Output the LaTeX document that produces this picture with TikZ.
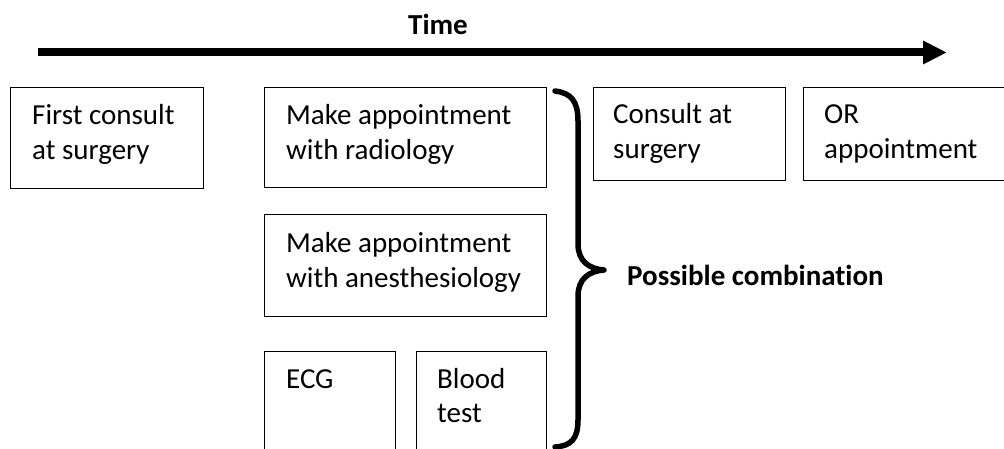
\documentclass[tikz,border=0pt]{standalone}
\usepackage{fontspec}
\setmainfont{Carlito}[Ligatures=NoCommon]
\usetikzlibrary{arrows.meta}
\tikzset{
  box/.style={draw, line width=1.3pt, rectangle, inner sep=0pt, anchor=north west},
  txt/.style={inner sep=0pt, anchor=base west, font=\fontsize{29}{34.5}\selectfont},
  bold txt/.style={txt, font=\fontsize{29}{34.5}\selectfont\bfseries},
  timeline/.style={line width=8pt, -{Triangle[length=24pt,width=22pt]}},
  bracestroke/.style={line width=5.5pt, line cap=round, line join=round}
}
\newcommand{\lines}[1]{\begin{tabular}[t]{@{}l@{}}#1\end{tabular}}
\begin{document}
\begin{tikzpicture}[x=1pt, y=-1pt]
  \useasboundingbox (0,0) rectangle (1004,449);
  \clip (0,0) rectangle (1004,449);

  % time axis
  \coordinate (tstart) at (38,52.5);
  \coordinate (tend) at (947,52.5);
  \draw[timeline] (tstart) -- (tend);
  \node[bold txt, anchor=base] (time) at (438,35) {Time};

  % step boxes
  \node[box, minimum width=193pt, minimum height=101pt] (first) at (10,87) {};
  \node[txt] (firstlbl) at (32,125) {\lines{First consult\\at surgery}};

  \node[box, minimum width=282pt, minimum height=100pt] (radio) at (264,87) {};
  \node[txt] (radiolbl) at (286,125) {\lines{Make appointment\\with radiology}};

  \node[box, minimum width=282pt, minimum height=102pt] (anest) at (264,214) {};
  \node[txt] (anestlbl) at (286,253) {\lines{Make appointment\\with anesthesiology}};

  \node[box, minimum width=131pt, minimum height=110pt] (ecg) at (264,351) {};
  \node[txt] (ecglbl) at (286,388) {ECG};

  \node[box, minimum width=130pt, minimum height=110pt] (blood) at (416,351) {};
  \node[txt] (bloodlbl) at (437,388) {\lines{Blood\\test}};

  \node[box, minimum width=192pt, minimum height=93pt] (consult) at (593,87) {};
  \node[txt] (consultlbl) at (613,124) {\lines{Consult at\\surgery}};

  \node[box, minimum width=220pt, minimum height=93pt] (or) at (803,87) {};
  \node[txt] (orlbl) at (824,124) {\lines{OR\\appointment}};

  % curly brace grouping the preparation steps
  \coordinate (btop) at (555,91);
  \coordinate (btip) at (604,270);
  \coordinate (bbot) at (555,447);
  \draw[bracestroke] (btop) .. controls (571,93) and (578,101) .. (578,121)
    -- (578,244) .. controls (578,261) and (589,269) .. (btip)
    .. controls (589,271) and (578,279) .. (578,296)
    -- (578,420) .. controls (578,439) and (571,446) .. (bbot);
  \node[bold txt] (combo) at (627,285) {Possible combination};
\end{tikzpicture}
\end{document}
